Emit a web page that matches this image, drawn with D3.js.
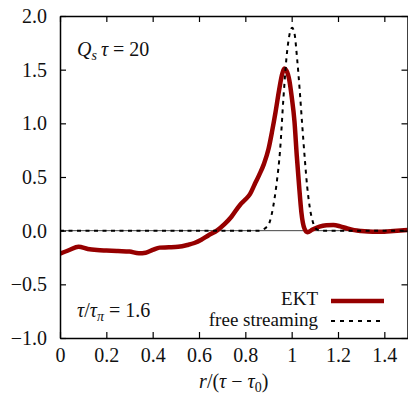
<!DOCTYPE html>
<html>
<head>
<meta charset="utf-8">
<script src="https://cdn.jsdelivr.net/npm/d3@7"></script>
<style>
  html, body { margin: 0; padding: 0; background: #fff; }
  svg { display: block; }
  text { font-family: "Liberation Serif", "Times New Roman", serif; fill: #111; }
</style>
</head>
<body>
<svg id="chart" width="408" height="397"></svg>
<script>
// EKT energy-density profile vs scaled radius
const ektR = [0.00, 0.04, 0.08, 0.12, 0.16, 0.20, 0.25, 0.30, 0.34, 0.37, 0.40, 0.43, 0.47, 0.51, 0.55, 0.58, 0.61, 0.64, 0.68, 0.71, 0.74, 0.777, 0.80, 0.82, 0.84, 0.86, 0.88, 0.90, 0.915, 0.93, 0.945, 0.958, 0.968, 0.978, 0.99, 1.00, 1.012, 1.022, 1.032, 1.042, 1.055, 1.068, 1.09, 1.12, 1.15, 1.18, 1.21, 1.24, 1.27, 1.30, 1.35, 1.40, 1.44, 1.50];
const ektV = [-0.215, -0.18, -0.15, -0.17, -0.18, -0.185, -0.19, -0.195, -0.21, -0.205, -0.18, -0.158, -0.155, -0.15, -0.133, -0.115, -0.085, -0.045, 0.005, 0.06, 0.13, 0.24, 0.29, 0.34, 0.43, 0.52, 0.62, 0.76, 0.92, 1.10, 1.30, 1.45, 1.51, 1.49, 1.40, 1.25, 1.02, 0.70, 0.42, 0.17, 0.02, -0.015, 0.01, 0.037, 0.05, 0.053, 0.04, 0.02, 0.005, -0.003, -0.01, -0.01, -0.003, 0.006];

// free-streaming reference profile
const fsR = [0.00, 0.86, 0.875, 0.89, 0.905, 0.92, 0.935, 0.95, 0.964, 0.978, 0.99, 1.002, 1.012, 1.024, 1.035, 1.045, 1.057, 1.067, 1.078, 1.093, 1.11, 1.13, 1.50];
const fsV = [0.00, 0.00, 0.01, 0.03, 0.08, 0.22, 0.44, 0.75, 1.22, 1.62, 1.82, 1.89, 1.84, 1.59, 1.30, 1.00, 0.66, 0.41, 0.22, 0.07, 0.01, 0.00, 0.00];

// axis ticks and their labels
const xTicks = [0, 0.2, 0.4, 0.6, 0.8, 1.0, 1.2, 1.4];
const xTickLabels = ["0", "0.2", "0.4", "0.6", "0.8", "1", "1.2", "1.4"];
const yTicks = [-1.0, -0.5, 0.0, 0.5, 1.0, 1.5, 2.0];
const yTickLabels = ["\u22121.0", "\u22120.5", "0.0", "0.5", "1.0", "1.5", "2.0"];

const legendNames = ["EKT", "free streaming"];

const svg = d3.select("#chart");
const L = 60, R = 407.5, T = 16, B = 338;

const x = d3.scaleLinear().domain([0, 1.5]).range([L, R]);
const y = d3.scaleLinear().domain([-1, 2]).range([B, T]);

svg.append("defs").append("clipPath").attr("id", "plotclip")
  .append("rect").attr("x", L).attr("y", T).attr("width", R - L).attr("height", B - T);

const plot = svg.append("g").attr("clip-path", "url(#plotclip)");

// zero axis
plot.append("line")
  .attr("x1", L).attr("x2", R).attr("y1", y(0)).attr("y2", y(0))
  .attr("stroke", "#444").attr("stroke-width", 1);

const line = d3.line().x(d => x(d[0])).y(d => y(d[1])).curve(d3.curveMonotoneX);

const ektData = ektR.map((r, i) => [r, ektV[i]]);
const fsData = fsR.map((r, i) => [r, fsV[i]]);

plot.append("path").datum(ektData)
  .attr("d", line)
  .attr("fill", "none").attr("stroke", "#960000").attr("stroke-width", 4.5)
  .attr("stroke-linejoin", "round").attr("stroke-linecap", "round");

plot.append("path").datum(fsData)
  .attr("d", line)
  .attr("fill", "none").attr("stroke", "#000").attr("stroke-width", 2)
  .attr("stroke-dasharray", "4,4.5");

// axes with inward ticks on all four sides
const fmtX = d => xTickLabels[xTicks.indexOf(d)];
const fmtY = d => yTickLabels[yTicks.indexOf(d)];

function styleAxis(g) {
  g.select(".domain").attr("stroke", "#000").attr("stroke-width", 1.5);
  g.selectAll(".tick line").attr("stroke", "#000").attr("stroke-width", 1.2);
  g.selectAll("text").attr("font-size", 20).attr("fill", "#111")
    .attr("font-family", "'Liberation Serif', 'Times New Roman', serif");
}

svg.append("g").attr("transform", `translate(0,${B})`)
  .call(d3.axisBottom(x).tickValues(xTicks).tickFormat(fmtX).tickSize(-6).tickSizeOuter(0).tickPadding(10))
  .call(styleAxis);
svg.append("g").attr("transform", `translate(0,${T})`)
  .call(d3.axisTop(x).tickValues(xTicks).tickFormat("").tickSize(-6).tickSizeOuter(0))
  .call(styleAxis);
svg.append("g").attr("transform", `translate(${L},0)`)
  .call(d3.axisLeft(y).tickValues(yTicks).tickFormat(fmtY).tickSize(-6).tickSizeOuter(0).tickPadding(13))
  .call(styleAxis);
svg.append("g").attr("transform", `translate(${R},0)`)
  .call(d3.axisRight(y).tickValues(yTicks).tickFormat("").tickSize(-6).tickSizeOuter(0))
  .call(styleAxis);

svg.selectAll(".tick text").filter(function () { return this.textContent === ""; }).remove();

// x axis title: r/(τ − τ0)
const xt = svg.append("text").attr("x", (L + R) / 2).attr("y", 388)
  .attr("text-anchor", "middle").attr("font-size", 20);
xt.append("tspan").attr("font-style", "italic").text("r");
xt.append("tspan").text("/(");
xt.append("tspan").attr("font-style", "italic").text("\u03c4");
xt.append("tspan").text(" \u2212 ");
xt.append("tspan").attr("font-style", "italic").text("\u03c4");
xt.append("tspan").attr("font-size", 14).attr("dy", 4).text("0");
xt.append("tspan").attr("dy", -4).text(")");

// annotation: Q_s τ = 20
const a1 = svg.append("text").attr("x", 77).attr("y", 56).attr("font-size", 20);
a1.append("tspan").attr("font-style", "italic").text("Q");
a1.append("tspan").attr("font-style", "italic").attr("font-size", 14).attr("dy", 4).text("s");
a1.append("tspan").attr("font-style", "italic").attr("dy", -4).text("\u2009\u03c4");
a1.append("tspan").text(" = 20");

// annotation: τ/τπ = 1.6
const a2 = svg.append("text").attr("x", 77).attr("y", 317).attr("font-size", 20);
a2.append("tspan").attr("font-style", "italic").text("\u03c4");
a2.append("tspan").text("/");
a2.append("tspan").attr("font-style", "italic").text("\u03c4");
a2.append("tspan").attr("font-style", "italic").attr("font-size", 14).attr("dy", 4).text("\u03c0");
a2.append("tspan").attr("dy", -4).text(" = 1.6");

// legend
const legend = svg.append("g");
const legY = [301, 321];
const legTextY = [305, 326];
legend.selectAll("text.lbl").data(legendNames).join("text")
  .attr("class", "lbl")
  .attr("x", 318).attr("y", (d, i) => legTextY[i])
  .attr("text-anchor", "end").attr("font-size", 19).text(d => d);
legend.append("line").attr("x1", 331).attr("x2", 384).attr("y1", legY[0]).attr("y2", legY[0])
  .attr("stroke", "#960000").attr("stroke-width", 4.5);
legend.append("line").attr("x1", 331).attr("x2", 384).attr("y1", legY[1]).attr("y2", legY[1])
  .attr("stroke", "#000").attr("stroke-width", 2).attr("stroke-dasharray", "4,5");
</script>
</body>
</html>
